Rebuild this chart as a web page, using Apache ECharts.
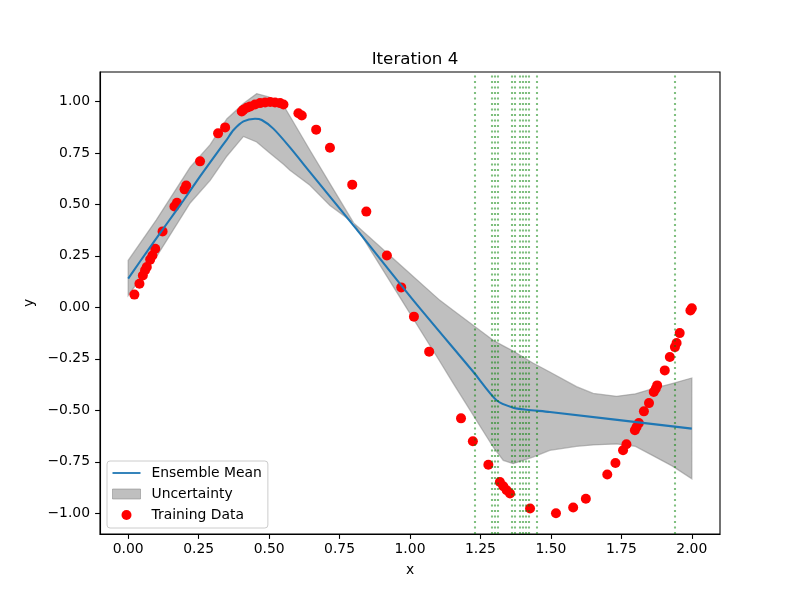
<!DOCTYPE html>
<html>
<head>
<meta charset="utf-8">
<script src="https://cdn.jsdelivr.net/npm/echarts@6/dist/echarts.min.js"></script>
<style>
html,body{margin:0;padding:0;background:#fff;}
#chart{width:800px;height:600px;}
</style>
</head>
<body>
<div id="chart"></div>
<script>
// ---- Data ----
const trainX = [0.022,0.040,0.052,0.060,0.066,0.078,0.086,0.096,0.122,0.164,0.173,0.200,0.206,0.255,0.319,0.344,
  0.403,0.409,0.421,0.433,0.450,0.468,0.486,0.504,0.521,0.539,0.551,0.604,0.616,0.667,0.716,0.795,0.845,0.918,
  0.969,1.014,1.068,1.181,1.223,1.278,1.319,1.331,1.343,1.355,1.426,1.518,1.579,1.624,1.700,1.729,1.756,1.768,
  1.798,1.804,1.812,1.830,1.848,1.865,1.872,1.877,1.904,1.922,1.940,1.946,1.957,1.995,2.000];
const trainY = [0.062,0.115,0.155,0.180,0.196,0.232,0.252,0.285,0.369,0.490,0.508,0.573,0.592,0.709,0.845,0.874,
  0.951,0.960,0.969,0.976,0.985,0.992,0.995,0.997,0.995,0.992,0.985,0.943,0.932,0.863,0.775,0.596,0.465,0.252,
  0.097,-0.045,-0.215,-0.539,-0.650,-0.764,-0.848,-0.869,-0.888,-0.904,-0.977,-1.000,-0.972,-0.929,-0.812,-0.756,-0.694,-0.665,
  -0.597,-0.581,-0.562,-0.505,-0.465,-0.411,-0.395,-0.379,-0.306,-0.241,-0.193,-0.173,-0.125,-0.015,-0.004];

const meanX = [0,0.078,0.137,0.196,0.255,0.314,0.35,0.373,0.409,0.45,0.474,0.515,0.574,0.645,0.716,0.81,1.012,1.225,1.307,1.366,1.414,1.496,2.0];
const meanY = [0.140,0.293,0.406,0.519,0.636,0.748,0.815,0.860,0.903,0.916,0.910,0.868,0.777,0.657,0.538,0.38,0.034,-0.314,-0.451,-0.487,-0.497,-0.508,-0.589];

const bandX = [0,0.1,0.22,0.291,0.35,0.409,0.456,0.498,0.551,0.574,0.645,0.716,0.80,0.965,1.106,1.154,1.295,1.331,1.366,1.436,1.496,1.591,1.65,1.733,1.80,1.862,1.93,2.0];
const bandLower = [0.058,0.245,0.507,0.617,0.734,0.830,0.803,0.754,0.695,0.666,0.593,0.495,0.41,0.047,-0.263,-0.37,-0.678,-0.743,-0.759,-0.727,-0.694,-0.675,-0.668,-0.663,-0.675,-0.72,-0.77,-0.832];
const bandUpper = [0.228,0.425,0.681,0.79,0.915,0.99,1.038,1.022,0.981,0.928,0.763,0.601,0.41,0.207,0.034,-0.015,-0.16,-0.187,-0.212,-0.27,-0.314,-0.385,-0.418,-0.432,-0.42,-0.395,-0.37,-0.343];

const vlineX = [1.227,1.294,1.301,1.315,1.357,1.371,1.385,1.400,1.413,1.424,1.449,1.943];

const xTicks = [0,0.25,0.5,0.75,1.0,1.25,1.5,1.75,2.0];
const yTicks = [-1.0,-0.75,-0.5,-0.25,0,0.25,0.5,0.75,1.0];

const titleText = 'Iteration 4';
const seriesNames = ['Ensemble Mean','Uncertainty','Training Data'];

// ---- Build chart ----
const FONT = 'DejaVu Sans';
const BAND = 'rgba(128,128,128,0.5)';
const fmt = v => v.toFixed(2).replace('-', '\u2212');
const zip = (a,b) => a.map((v,i)=>[v,b[i]]);

const chart = echarts.init(document.getElementById('chart'), null, {renderer:'canvas'});
chart.setOption({
  animation:false,
  backgroundColor:'#ffffff',
  textStyle:{fontFamily:FONT},
  title:{
    text:titleText, left:410, top:46, textAlign:'center',
    textStyle:{fontFamily:FONT, fontSize:16.7, fontWeight:'normal', color:'#000'}
  },
  grid:{left:100, right:80, top:72, bottom:66, show:true, borderColor:'#000', borderWidth:1.1},
  xAxis:{
    type:'value', min:-0.1, max:2.1,
    name:'x', nameLocation:'middle', nameGap:29,
    nameTextStyle:{fontFamily:FONT, fontSize:13.9, color:'#000'},
    axisLine:{show:true, onZero:false, lineStyle:{color:'#000', width:1.1}},
    axisTick:{show:true, length:4.9, customValues:xTicks, lineStyle:{color:'#000', width:1.1}},
    axisLabel:{show:true, customValues:xTicks, formatter:fmt, margin:8,
      fontFamily:FONT, fontSize:13.9, color:'#000'},
    splitLine:{show:false}
  },
  yAxis:{
    type:'value', min:-1.1006, max:1.143,
    name:'y', nameLocation:'middle', nameGap:51,
    nameTextStyle:{fontFamily:FONT, fontSize:13.9, color:'#000'},
    axisLine:{show:true, onZero:false, lineStyle:{color:'#000', width:1.1}},
    axisTick:{show:true, length:4.9, customValues:yTicks, lineStyle:{color:'#000', width:1.1}},
    axisLabel:{show:true, customValues:yTicks, formatter:fmt, margin:10,
      fontFamily:FONT, fontSize:13.9, color:'#000'},
    splitLine:{show:false}
  },
  legend:{
    orient:'vertical', left:107, top:461,
    padding:[5,6,6,5], itemGap:7, itemWidth:28, itemHeight:10,
    backgroundColor:'rgba(255,255,255,0.8)', borderColor:'#cccccc', borderWidth:1, borderRadius:3,
    textStyle:{fontFamily:FONT, fontSize:13.9, color:'#000', padding:[0,0,0,6], lineHeight:14},
    data:[
      {name:seriesNames[0], icon:'path://M0,0 M0,4.1 L28,4.1 L28,5.9 L0,5.9 Z M28,10', itemStyle:{color:'#1f77b4'}},
      {name:seriesNames[1], icon:'rect', itemStyle:{color:BAND, borderColor:BAND, borderWidth:1}},
      {name:seriesNames[2], icon:'circle', itemStyle:{color:'#ff0000'}}
    ]
  },
  series:[
    {
      name:seriesNames[1], type:'custom', z:1,
      coordinateSystem:'cartesian2d',
      itemStyle:{color:BAND},
      encode:{x:0, y:[1,2]},
      data:bandX.map((x,i)=>[x, bandLower[i], bandUpper[i]]),
      renderItem:function(params, api){
        if (params.dataIndex !== 0) return null;
        const pts = [];
        for (let i = 0; i < bandX.length; i++) pts.push(api.coord([bandX[i], bandUpper[i]]));
        for (let i = bandX.length - 1; i >= 0; i--) pts.push(api.coord([bandX[i], bandLower[i]]));
        return {
          type:'polygon',
          shape:{points:pts},
          style:{fill:BAND, stroke:BAND, lineWidth:1.3}
        };
      }
    },
    {
      name:seriesNames[2], type:'scatter', z:2,
      data:zip(trainX, trainY), symbol:'circle', symbolSize:10,
      itemStyle:{color:'#ff0000', opacity:1}
    },
    {
      name:seriesNames[0], type:'line', z:3,
      data:zip(meanX, meanY), symbol:'none', showSymbol:false, smooth:0.25,
      itemStyle:{color:'#1f77b4'},
      lineStyle:{color:'#1f77b4', width:2.08}
    },
    {
      name:'vlines', type:'line', z:4, data:[],
      markLine:{
        silent:true, symbol:['none','none'], label:{show:false}, animation:false,
        lineStyle:{color:'rgba(0,128,0,0.5)', type:[2.1,3.4], width:2.08},
        data:vlineX.map(v=>({xAxis:v}))
      }
    }
  ]
});
</script>
</body>
</html>
